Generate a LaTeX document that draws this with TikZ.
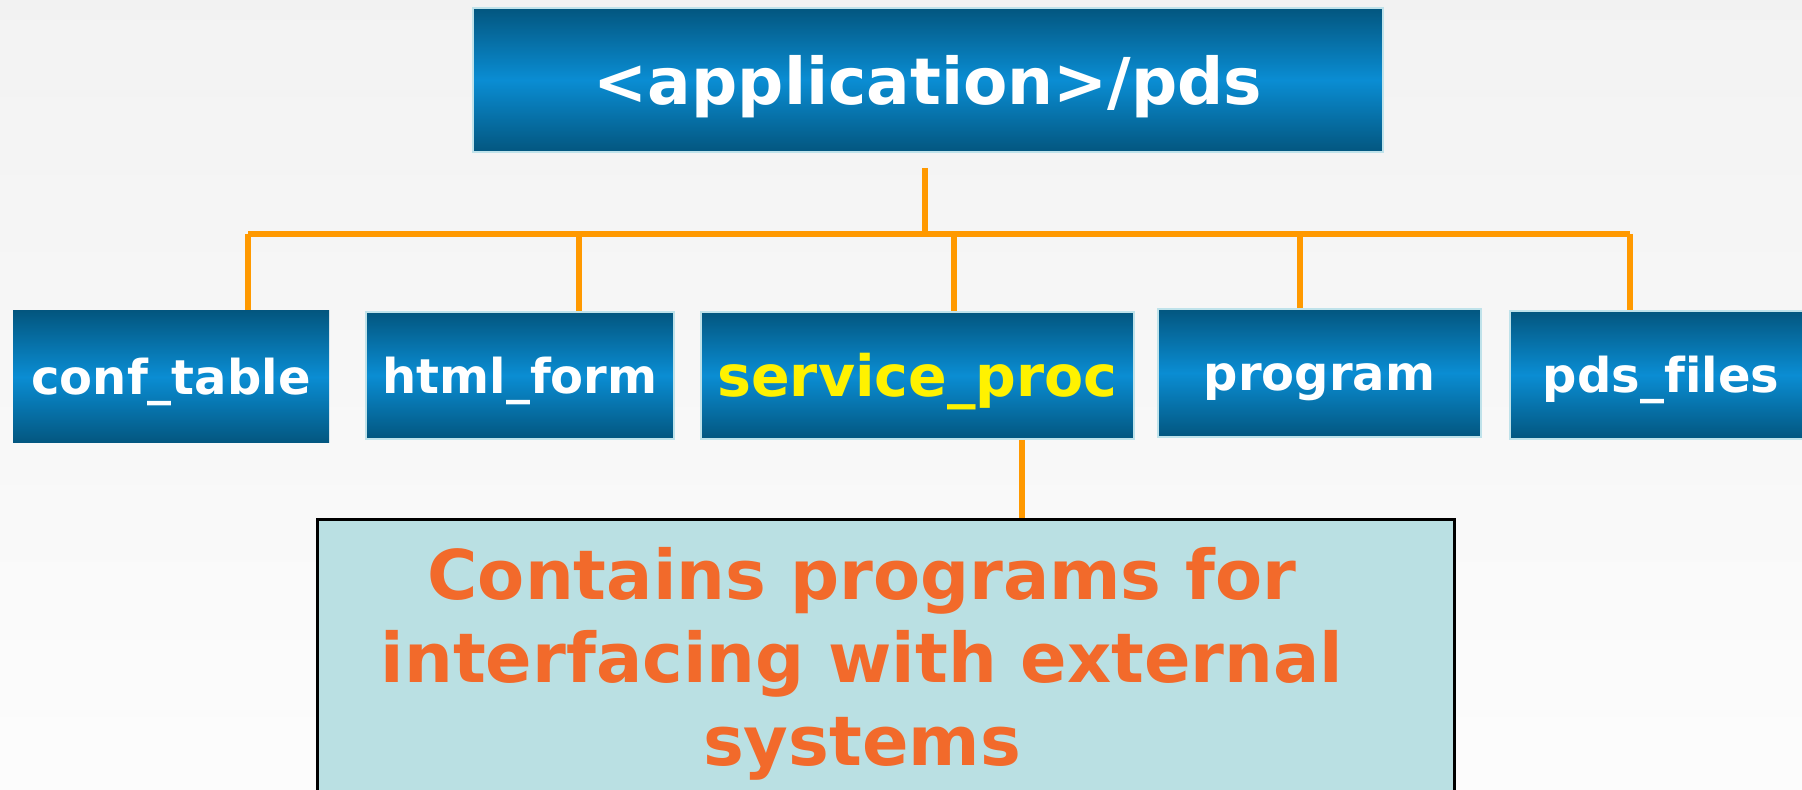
\documentclass[tikz,border=0pt]{standalone}
\usepackage{fontspec}
\setmainfont{DejaVu Sans}[Ligatures=NoCommon]
\tikzset{>=stealth}
\definecolor{dirdark}{HTML}{03567F}
\definecolor{dirmid}{HTML}{0A8DD3}
\definecolor{dirrim}{HTML}{BFE2EA}
\definecolor{wireorange}{HTML}{FF9900}
\definecolor{noteback}{HTML}{BAE0E3}
\definecolor{noteorange}{HTML}{F26A2B}
\tikzset{
  dirbox/.style={rectangle, draw=dirrim, line width=1pt, top color=dirdark, bottom color=dirdark,
    middle color=dirmid, text=white, inner sep=0pt, font=\bfseries\fontsize{24}{28}\selectfont,
    text height=18pt, text depth=0pt},
  notebox/.style={rectangle, draw=black, line width=1.5pt, fill=noteback},
  notelabel/.style={align=center, inner sep=0pt, text=noteorange, font=\bfseries\fontsize{34.3}{41.5}\selectfont},
  wire/.style={wireorange, line width=2.8pt}
}

\begin{document}
\begin{tikzpicture}[x=0.5pt,y=-0.5pt]
    \clip (0,0) rectangle (1802,790);
    \shade[top color=black!5, bottom color=black!1] (0,0) rectangle (1802,790);
    \node[dirbox, minimum width=455pt, minimum height=72pt, text height=24.2pt,
      font=\bfseries\fontsize{32.3}{38}\selectfont] (root) at (928,80) {<application>/pds};
    \node[dirbox, draw=none, minimum width=158pt, minimum height=66pt] (conf) at (171,377) {conf\_table};
    \node[dirbox, minimum width=154pt, minimum height=63.5pt] (html) at (520,375.5) {html\_form};
    \node[dirbox, minimum width=216.5pt, minimum height=63.5pt, text=yellow, text height=21.4pt,
      font=\bfseries\fontsize{28.5}{33}\selectfont] (svc) at (917.5,375.5) {service\_proc};
    \node[dirbox, minimum width=161.5pt, minimum height=64pt] (prog) at (1319.5,373) {program};
    \node[dirbox, minimum width=151pt, minimum height=64pt] (pdsf) at (1661,375) {pds\_files};
    \node[notebox, minimum width=568.5pt, minimum height=145pt] (note) at (885.5,664) {};
    \node[notelabel, anchor=north] (notetxt) at (862,547) {Contains programs for\\interfacing with external\\systems};
    \coordinate (hub) at (925,234);
    \coordinate (dn) at (1022,480);
    \foreach \x/\n in {248/conf,579/html,954/svc,1300/prog,1630/pdsf} {
      \coordinate (j\n) at (\x,234);
      \draw[wire] (j\n) -- (j\n |- \n.north);
    }
    \draw[wire] (jconf) -- (jpdsf);
    \draw[wire] ([yshift=-7.5pt]root.south -| hub) -- (hub);
    \draw[wire] (svc.south -| dn) -- (note.north -| dn);
\end{tikzpicture}
\end{document}
